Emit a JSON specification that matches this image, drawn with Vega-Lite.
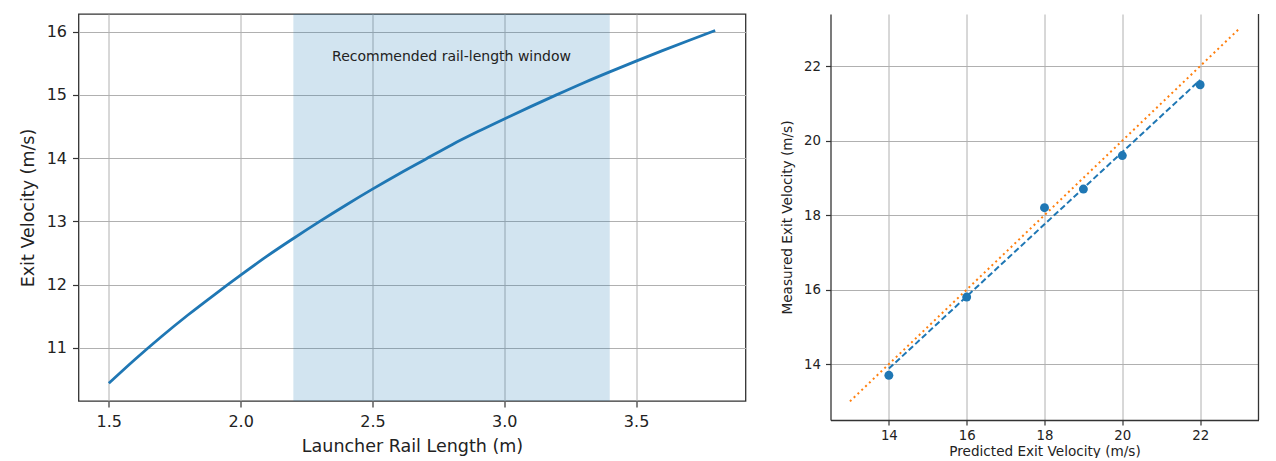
{
  "$schema": "https://vega.github.io/schema/vega-lite/v6.json",
  "padding": {"left": 17.5, "top": 9, "right": 10, "bottom": 0},
  "background": "white",
  "spacing": 33,
  "config": {
    "font": "DejaVu Sans",
    "view": {"stroke": "#333", "strokeWidth": 1.3},
    "axis": {
      "labelFont": "DejaVu Sans",
      "titleFont": "DejaVu Sans",
      "labelColor": "#222",
      "titleColor": "#222",
      "titleFontWeight": "normal",
      "tickColor": "#333",
      "tickWidth": 1.2,
      "gridColor": "#b0b0b0",
      "gridWidth": 1,
      "domainColor": "#333",
      "domainWidth": 1.3,
      "labelFlush": false,
      "labelOverlap": false
    }
  },
  "datasets": {
    "curve": [
      {"L": 1.5, "v": 10.44}, {"L": 1.6, "v": 10.82}, {"L": 1.7, "v": 11.18}, {"L": 1.8, "v": 11.52},
      {"L": 1.9, "v": 11.84}, {"L": 2.0, "v": 12.15}, {"L": 2.1, "v": 12.45}, {"L": 2.2, "v": 12.73},
      {"L": 2.3, "v": 13.0}, {"L": 2.4, "v": 13.26}, {"L": 2.5, "v": 13.51}, {"L": 2.6, "v": 13.75},
      {"L": 2.7, "v": 13.98}, {"L": 2.8, "v": 14.21}, {"L": 2.9, "v": 14.42}, {"L": 3.0, "v": 14.62},
      {"L": 3.1, "v": 14.815}, {"L": 3.2, "v": 15.005}, {"L": 3.3, "v": 15.19}, {"L": 3.4, "v": 15.365},
      {"L": 3.5, "v": 15.535}, {"L": 3.6, "v": 15.7}, {"L": 3.7, "v": 15.862}, {"L": 3.8, "v": 16.02}
    ],
    "band": [{"start": 2.2, "end": 3.4}],
    "note": [{"L": 2.8, "v": 15.6, "text": "Recommended rail-length window"}],
    "scatter": [
      {"pred": 14, "meas": 13.7}, {"pred": 16, "meas": 15.8}, {"pred": 18, "meas": 18.2},
      {"pred": 19, "meas": 18.7}, {"pred": 20, "meas": 19.6}, {"pred": 22, "meas": 21.5}
    ],
    "fit": [{"pred": 14, "meas": 13.88}, {"pred": 22, "meas": 21.63}],
    "identity": [{"pred": 13, "meas": 13}, {"pred": 23, "meas": 23}]
  },
  "hconcat": [
    {
      "width": 667,
      "height": 387,
      "title": {"text": "\u00a0", "fontSize": 3, "offset": 1},
      "layer": [
        {
          "data": {"name": "band"},
          "mark": {"type": "rect", "color": "#1f77b4", "opacity": 0.2},
          "encoding": {
            "x": {"field": "start", "type": "quantitative"},
            "x2": {"field": "end"}
          }
        },
        {
          "data": {"name": "curve"},
          "mark": {"type": "line", "color": "#1f77b4", "strokeWidth": 2.8, "interpolate": "monotone"},
          "encoding": {
            "x": {
              "field": "L", "type": "quantitative",
              "scale": {"domain": [1.385, 3.915], "nice": false, "zero": false},
              "axis": {
                "title": "Launcher Rail Length (m)",
                "values": [1.5, 2.0, 2.5, 3.0, 3.5],
                "format": ".1f",
                "tickSize": 6, "labelPadding": 6,
                "labelFontSize": 16, "titleFontSize": 17.5, "titlePadding": 8,
                "domain": false
              }
            },
            "y": {
              "field": "v", "type": "quantitative",
              "scale": {"domain": [10.16, 16.28], "nice": false, "zero": false},
              "axis": {
                "title": "Exit Velocity (m/s)",
                "values": [11, 12, 13, 14, 15, 16],
                "format": "d",
                "tickSize": 6, "labelPadding": 6,
                "labelFontSize": 16, "titleFontSize": 17.5, "titlePadding": 9,
                "domain": false
              }
            }
          }
        },
        {
          "data": {"name": "note"},
          "mark": {"type": "text", "fontSize": 14, "color": "#222", "align": "center", "baseline": "middle", "font": "DejaVu Sans"},
          "encoding": {
            "x": {"field": "L", "type": "quantitative"},
            "y": {"field": "v", "type": "quantitative"},
            "text": {"field": "text"}
          }
        }
      ]
    },
    {
      "width": 428,
      "height": 406,
      "view": {"stroke": null},
      "layer": [
        {
          "data": {"name": "identity"},
          "mark": {"type": "line", "color": "#ff7f0e", "strokeWidth": 2, "strokeDash": [2, 3.3], "strokeCap": "butt"},
          "encoding": {
            "x": {
              "field": "pred", "type": "quantitative",
              "scale": {"domain": [12.5, 23.5], "nice": false, "zero": false},
              "axis": {
                "title": "Predicted Exit Velocity (m/s)",
                "values": [14, 16, 18, 20, 22],
                "tickSize": 5, "labelPadding": 3,
                "labelFontSize": 13.3, "titleFontSize": 13.6, "titlePadding": 3,
                "domain": true
              }
            },
            "y": {
              "field": "meas", "type": "quantitative",
              "scale": {"domain": [12.5, 23.4], "nice": false, "zero": false},
              "axis": {
                "title": "Measured Exit Velocity (m/s)",
                "values": [14, 16, 18, 20, 22],
                "tickSize": 5, "labelPadding": 5,
                "labelFontSize": 13.3, "titleFontSize": 13.6, "titlePadding": 9.5,
                "domain": true
              }
            }
          }
        },
        {
          "data": {"name": "fit"},
          "mark": {"type": "line", "color": "#1f77b4", "strokeWidth": 2, "strokeDash": [6, 3]},
          "encoding": {
            "x": {"field": "pred", "type": "quantitative"},
            "y": {"field": "meas", "type": "quantitative"}
          }
        },
        {
          "data": {"name": "scatter"},
          "mark": {"type": "point", "filled": true, "color": "#1f77b4", "opacity": 1, "size": 80},
          "encoding": {
            "x": {"field": "pred", "type": "quantitative"},
            "y": {"field": "meas", "type": "quantitative"}
          }
        },
        {
          "data": {"values": [{"edge": 23.5}]},
          "mark": {"type": "rule", "color": "#333", "strokeWidth": 1.3},
          "encoding": {
            "x": {"field": "edge", "type": "quantitative"}
          }
        }
      ]
    }
  ]
}
